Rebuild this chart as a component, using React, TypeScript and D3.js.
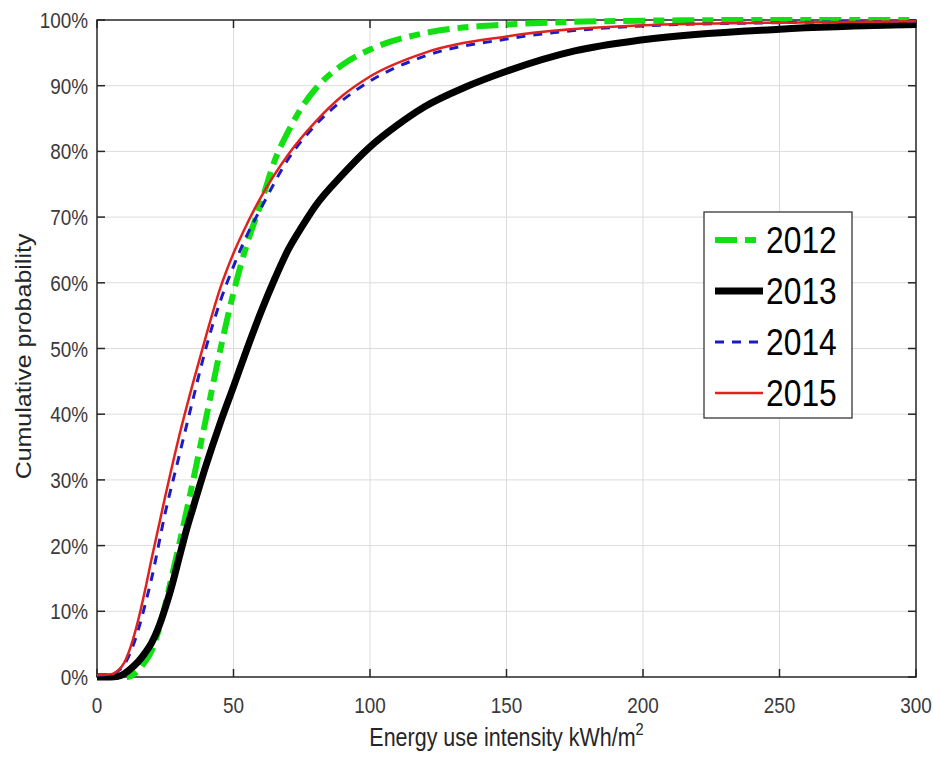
import { useEffect } from "react";
import * as d3 from "d3";

// Cumulative distributions: [kWh/m2, cumulative %]
const years = ["2012", "2013", "2014", "2015"];

const cdf2012: [number, number][] = [
  [0, 0], [11, 0], [14, 0.6], [17, 2], [20, 4], [22.5, 7], [25, 11], [27.5, 15.5], [30, 20],
  [35, 29.5], [40, 39.5], [45, 49.5], [50, 58.5], [55, 66], [60, 72], [65, 78.5], [70, 83],
  [75, 86.7], [80, 89.5], [90, 93.2], [100, 95.5], [120, 98], [150, 99.3], [200, 99.9],
  [250, 100], [300, 100],
];

const cdf2013: [number, number][] = [
  [0, 0], [5, 0], [7.5, 0.1], [10, 0.5], [12.5, 1.3], [15, 2.3], [17.5, 3.6], [20, 5.2],
  [22.5, 7.5], [25, 10.5], [27.5, 14], [30, 18], [32.5, 22], [35, 25.5], [40, 32.3],
  [45, 38.5], [50, 44.2], [55, 50], [60, 55.5], [65, 60.5], [70, 65], [75, 68.5], [80, 71.7],
  [90, 76.5], [100, 80.7], [110, 84], [120, 86.8], [135, 89.8], [150, 92.2], [175, 95.3],
  [200, 97], [250, 98.6], [300, 99.3],
];

const cdf2014: [number, number][] = [
  [0, 0.3], [5, 0.4], [8, 1], [10, 1.9], [12.5, 4], [15, 7], [17.5, 10.8], [20, 15], [25, 25],
  [30, 33.5], [35, 42], [40, 50.2], [45, 57], [50, 62.5], [55, 67.3], [60, 71.3], [70, 78.8],
  [80, 84], [90, 87.8], [100, 90.7], [120, 94.5], [150, 97.1], [200, 99.1], [250, 99.6],
  [300, 99.8],
];

const cdf2015: [number, number][] = [
  [0, 0.3], [5, 0.4], [7.5, 0.9], [10, 2.2], [12.5, 4.8], [15, 8.5], [17.5, 13], [20, 18],
  [25, 27.5], [30, 36.5], [35, 44.5], [40, 52], [45, 59], [50, 64.5], [55, 69], [60, 73],
  [70, 79.5], [80, 84.5], [90, 88.5], [100, 91.4], [120, 95], [150, 97.5], [200, 99.2],
  [250, 99.6], [300, 99.8],
];

const xTicks = [0, 50, 100, 150, 200, 250, 300];
const yTicks = [0, 10, 20, 30, 40, 50, 60, 70, 80, 90, 100];

const seriesData = [cdf2012, cdf2013, cdf2014, cdf2015];
const seriesStyle = [
  { color: "#12e012", width: 6, dash: "22 8 11 8" },
  { color: "#000000", width: 7, dash: "" },
  { color: "#1c1cc4", width: 3, dash: "9 8" },
  { color: "#e0221e", width: 2.5, dash: "" },
];

const W = 933;
const H = 760;
const margin = { top: 20, right: 17, bottom: 83, left: 97 };
const font = "'Liberation Sans', Arial, Helvetica, sans-serif";
const squeeze = 0.86;

export default function App() {
  useEffect(() => {
    document.body.style.margin = "0";
  }, []);

  const x = d3.scaleLinear().domain([0, 300]).range([margin.left, W - margin.right]);
  const y = d3.scaleLinear().domain([0, 100]).range([H - margin.bottom, margin.top]);

  const line = d3
    .line<[number, number]>()
    .x((d) => x(d[0]))
    .y((d) => y(d[1]))
    .curve(d3.curveMonotoneX);

  const x0 = x.range()[0];
  const x1 = x.range()[1];
  const y0 = y.range()[0];
  const y1 = y.range()[1];
  const tick = 8;

  // legend box
  const lg = { x: 704, y: 212, w: 148, h: 206 };
  const rowY = (i: number) => lg.y + 28 + i * 51;

  return (
    <svg width={W} height={H} style={{ display: "block", background: "#fff" }} fontFamily={font}>
      {/* grid */}
      <g stroke="#dcdcdc" strokeWidth={1}>
        {xTicks.slice(1, -1).map((t) => (
          <line key={"gx" + t} x1={x(t)} x2={x(t)} y1={y1} y2={y0} />
        ))}
        {yTicks.slice(1, -1).map((t) => (
          <line key={"gy" + t} x1={x0} x2={x1} y1={y(t)} y2={y(t)} />
        ))}
      </g>

      {/* box + inward ticks */}
      <g stroke="#262626" strokeWidth={1.5} fill="none">
        <rect x={x0} y={y1} width={x1 - x0} height={y0 - y1} />
        {xTicks.map((t) => (
          <g key={"tx" + t}>
            <line x1={x(t)} x2={x(t)} y1={y0} y2={y0 - tick} />
            <line x1={x(t)} x2={x(t)} y1={y1} y2={y1 + tick} />
          </g>
        ))}
        {yTicks.map((t) => (
          <g key={"ty" + t}>
            <line x1={x0} x2={x0 + tick} y1={y(t)} y2={y(t)} />
            <line x1={x1} x2={x1 - tick} y1={y(t)} y2={y(t)} />
          </g>
        ))}
      </g>

      {/* tick labels */}
      <g fill="#3a3a3a" fontSize={22}>
        {xTicks.map((t) => (
          <text key={"lx" + t} transform={`translate(${x(t)},${y0 + 36}) scale(${squeeze},1)`} textAnchor="middle">
            {t}
          </text>
        ))}
        {yTicks.map((t) => (
          <text key={"ly" + t} transform={`translate(${x0 - 9},${y(t) + 8}) scale(${squeeze},1)`} textAnchor="end">
            {t}%
          </text>
        ))}
      </g>

      {/* axis labels */}
      <g fill="#262626" fontSize={25}>
        <text transform={`translate(${(x0 + x1) / 2},${y0 + 69}) scale(${squeeze},1)`} textAnchor="middle">
          Energy use intensity kWh/m
          <tspan fontSize={17} dy={-11}>2</tspan>
        </text>
        <text transform={`translate(31,${(y0 + y1) / 2 + 8}) scale(${squeeze},1) rotate(-90)`} textAnchor="middle">
          Cumulative probability
        </text>
      </g>

      {/* curves */}
      <g fill="none" strokeLinejoin="round">
        {seriesData.map((d, i) => (
          <path
            key={years[i]}
            d={line(d) ?? ""}
            stroke={seriesStyle[i].color}
            strokeWidth={seriesStyle[i].width}
            strokeDasharray={seriesStyle[i].dash || undefined}
          />
        ))}
      </g>

      {/* legend */}
      <g>
        <rect x={lg.x} y={lg.y} width={lg.w} height={lg.h} fill="#fff" stroke="#262626" strokeWidth={1.2} />
        {years.map((yr, i) => (
          <g key={"leg" + yr}>
            <line
              x1={lg.x + 11}
              x2={lg.x + 59}
              y1={rowY(i)}
              y2={rowY(i)}
              stroke={seriesStyle[i].color}
              strokeWidth={seriesStyle[i].width}
              strokeDasharray={seriesStyle[i].dash || undefined}
            />
            <text
              transform={`translate(${lg.x + 62},${rowY(i) + 13}) scale(${squeeze},1)`}
              fontSize={37}
              fill="#000"
            >
              {yr}
            </text>
          </g>
        ))}
      </g>
    </svg>
  );
}
